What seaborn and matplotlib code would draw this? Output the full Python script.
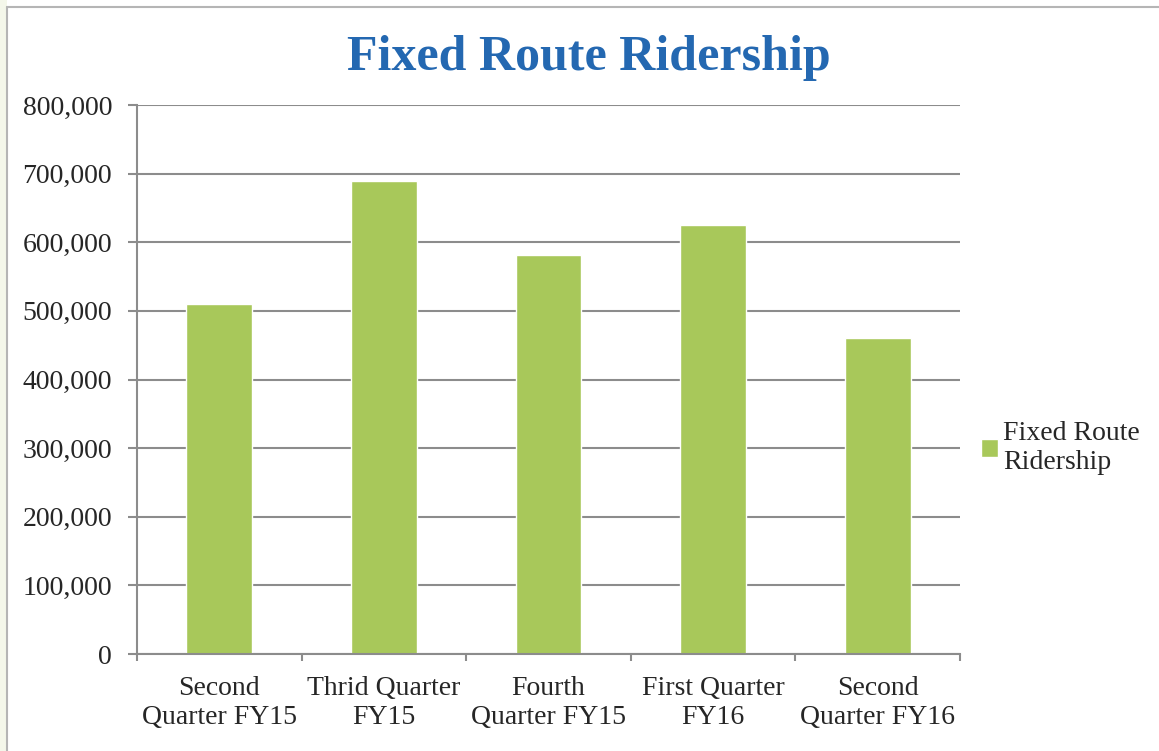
import matplotlib
matplotlib.use("Agg")
import matplotlib.pyplot as plt
from matplotlib.patches import Rectangle
from matplotlib.ticker import FuncFormatter
import seaborn as sns
import pandas as pd

# Data
quarters = [
    "Second\nQuarter FY15",
    "Thrid Quarter\nFY15",
    "Fourth\nQuarter FY15",
    "First Quarter\nFY16",
    "Second\nQuarter FY16",
]
ridership = [510000, 689000, 582000, 625000, 461000]
series_name = "Fixed Route\nRidership"

df = pd.DataFrame({"quarter": quarters, "riders": ridership, "series": series_name})

sns.set_style("white")
plt.rcParams["font.family"] = ["Liberation Serif", "DejaVu Serif"]

fig = plt.figure(figsize=(11.59, 7.51), dpi=100)
# page border / margin strip
fig.patches.append(Rectangle((0, 0), 7 / 1159, 1, transform=fig.transFigure,
                             facecolor="#F4F7EA", edgecolor="none", zorder=0))
fig.lines.append(plt.Line2D([7 / 1159, 7 / 1159], [0, 1 - 7 / 751], transform=fig.transFigure,
                            color="#B5B5B5", lw=1.5))
fig.lines.append(plt.Line2D([7 / 1159, 1], [1 - 7 / 751, 1 - 7 / 751], transform=fig.transFigure,
                            color="#B5B5B5", lw=1.5))

ax = fig.add_axes([137 / 1159, 1 - 654 / 751, (960 - 137) / 1159, (654 - 105) / 751])

sns.barplot(data=df, x="quarter", y="riders", hue="series", palette=["#A8C85A"],
            width=0.4, ax=ax, legend=True, saturation=1)

ax.set_ylim(0, 800000)
ax.set_xlim(-0.5, 4.5)
ax.set_yticks(range(0, 800001, 100000))
ax.yaxis.set_major_formatter(FuncFormatter(lambda v, p: f"{int(v):,}"))
ax.grid(axis="y", color="#8C8C8C", lw=1.5)
ax.set_axisbelow(True)
for side in ["top", "right"]:
    ax.spines[side].set_visible(False)
for side in ["left", "bottom"]:
    ax.spines[side].set_color("#8C8C8C")
    ax.spines[side].set_linewidth(1.5)

ax.set_xticks([-0.5, 0.5, 1.5, 2.5, 3.5, 4.5], minor=True)
ax.tick_params(axis="x", which="minor", length=5, width=1.5, color="#8C8C8C", bottom=True)
ax.tick_params(axis="x", which="major", length=0, pad=16, labelsize=20)
ax.tick_params(axis="y", length=6.5, width=1.5, color="#8C8C8C", left=True, pad=11.5, labelsize=20)
ax.set_xlabel("")
ax.set_ylabel("")

ax.legend(loc="center left", bbox_to_anchor=(0.995, 0.375), frameon=False, fontsize=20,
          handlelength=0.6, handleheight=0.6, handletextpad=0.2)

fig.text(0.508, 0.923, "Fixed Route Ridership", ha="center", va="center",
         fontsize=36, fontweight="bold", color="#2468B1")

fig.savefig("out.png", dpi=100)
